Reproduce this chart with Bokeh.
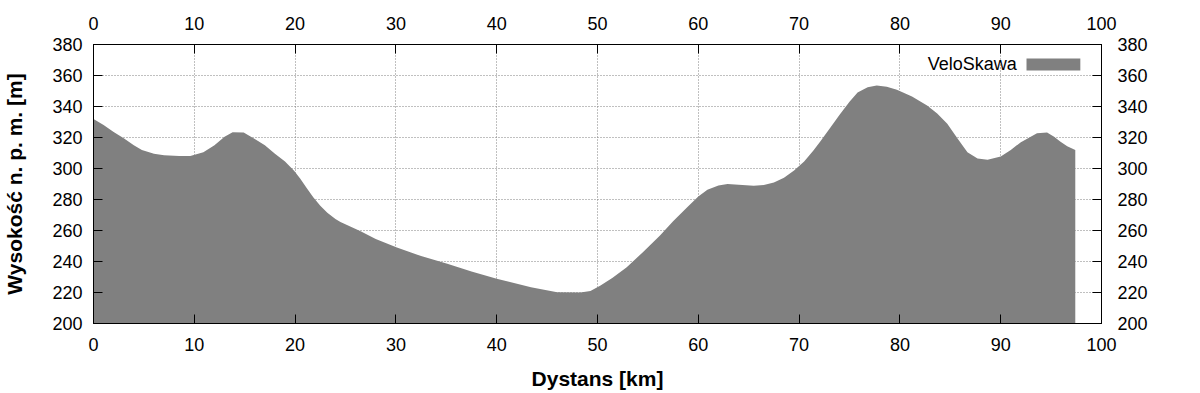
from bokeh.plotting import figure
from bokeh.models import LinearAxis, FixedTicker, Label, BoxAnnotation
from bokeh.embed import file_html
from bokeh.resources import INLINE

# ---- data ----
distance_km = [0, 1, 2, 3, 4, 4.8, 6, 7, 8.5, 9.6, 10.9, 12, 13, 13.8, 14.9, 16, 17,
               18, 19, 19.9, 20.5, 21.2, 21.8, 22.5, 23.2, 24, 24.5, 26.5, 28, 30.1,
               32.5, 35.1, 37.5, 40, 43.4, 46, 48.3, 49.3, 50.3, 51.5, 52.9, 54.5, 56.2,
               57.5, 58.9, 60, 60.9, 62, 62.9, 64, 65.5, 66.5, 67.5, 68.5, 69.5, 70.5,
               71.4, 72.1, 73, 74, 75, 75.8, 76.8, 77.7, 78.7, 79.7, 81.2, 82.7, 83.7,
               84.7, 85.7, 86.7, 87.7, 88.7, 90, 91, 92, 93.6, 94.6, 95.3, 95.9, 96.6,
               97.4]
elevation_m = [332, 328, 323.5, 319.5, 315, 312, 309.5, 308.5, 308, 308, 310.5, 315,
               320.5, 323.4, 323.3, 319, 315, 309.5, 304.5, 298.5, 293.5, 287, 281.5,
               276, 271.5, 267.5, 265.5, 259.5, 254.5, 249, 243.5, 238.5, 233.5, 228.8,
               223.4, 220.2, 220, 221, 224.5, 229.5, 236.3, 246, 256.8, 266, 275, 282,
               286.3, 289, 290, 289.5, 288.8, 289.3, 291, 294, 298.7, 304.5, 311.5,
               317.5, 325.5, 334.5, 343, 349, 352.5, 353.5, 352.8, 350.8, 346.5, 340.6,
               335.5, 328.8, 319.5, 310.5, 306.5, 305.6, 307.7, 312, 317, 322.8, 323.2,
               320.5, 317.4, 314.3, 312]
series_name = "VeloSkawa"
x_ticks = [0, 10, 20, 30, 40, 50, 60, 70, 80, 90, 100]
y_ticks = [200, 220, 240, 260, 280, 300, 320, 340, 360, 380]
x_label = "Dystans [km]"
y_label = "Wysokość n. p. m. [m]"

FONT = "Liberation Sans"
TICK_SIZE = "18px"
LABEL_SIZE = "21px"
FILL = "#808080"

p = figure(width=1200, height=393, x_range=(0, 100), y_range=(200, 380),
           output_backend="svg", toolbar_location=None,
           min_border_left=93, min_border_right=99, min_border_top=44,
           min_border_bottom=70)
p.outline_line_color = "black"
p.outline_line_width = 1
p.background_fill_color = "white"
p.border_fill_color = "white"

p.varea(x=distance_km, y1=200, y2=elevation_m, fill_color=FILL, fill_alpha=1.0)

bottom_axis = p.below[0]
left_axis = p.left[0]
top_axis = LinearAxis()
right_axis = LinearAxis()
p.add_layout(top_axis, "above")
p.add_layout(right_axis, "right")

for ax in [bottom_axis, top_axis]:
    ax.ticker = FixedTicker(ticks=x_ticks)
for ax in [left_axis, right_axis]:
    ax.ticker = FixedTicker(ticks=y_ticks)

for ax in [bottom_axis, top_axis, left_axis, right_axis]:
    ax.major_tick_in = 9
    ax.major_tick_out = 0
    ax.minor_tick_line_color = None
    ax.axis_line_color = "black"
    ax.major_tick_line_color = "black"
    ax.major_label_text_font = FONT
    ax.major_label_text_font_size = TICK_SIZE
    ax.major_label_text_color = "black"
    ax.axis_label_text_font = FONT
    ax.axis_label_text_font_size = LABEL_SIZE
    ax.axis_label_text_font_style = "bold"
    ax.axis_label_text_color = "black"

bottom_axis.axis_label = x_label
left_axis.axis_label = y_label
bottom_axis.major_label_standoff = 14
bottom_axis.axis_label_standoff = 13
top_axis.major_label_standoff = 15
left_axis.major_label_standoff = 11
left_axis.axis_label_standoff = 23
right_axis.major_label_standoff = 16

for g in [p.xgrid[0], p.ygrid[0]]:
    g.grid_line_color = "#808080"
    g.grid_line_dash = "1 2"
    g.grid_line_width = 1
p.xgrid[0].ticker = FixedTicker(ticks=x_ticks)
p.ygrid[0].ticker = FixedTicker(ticks=y_ticks)

# gnuplot-style key: text then sample on the right
key_label = Label(x=91.6, y=367.1, text=series_name, text_font=FONT,
                  text_font_size=TICK_SIZE, text_align="right",
                  text_baseline="middle", text_color="black")
p.add_layout(key_label)
key_box = BoxAnnotation(left=92.56, right=97.9, bottom=363.2, top=371,
                        fill_color=FILL, fill_alpha=1.0, line_color=None)
p.add_layout(key_box)

open("out.html", "w").write(file_html(p, INLINE))
